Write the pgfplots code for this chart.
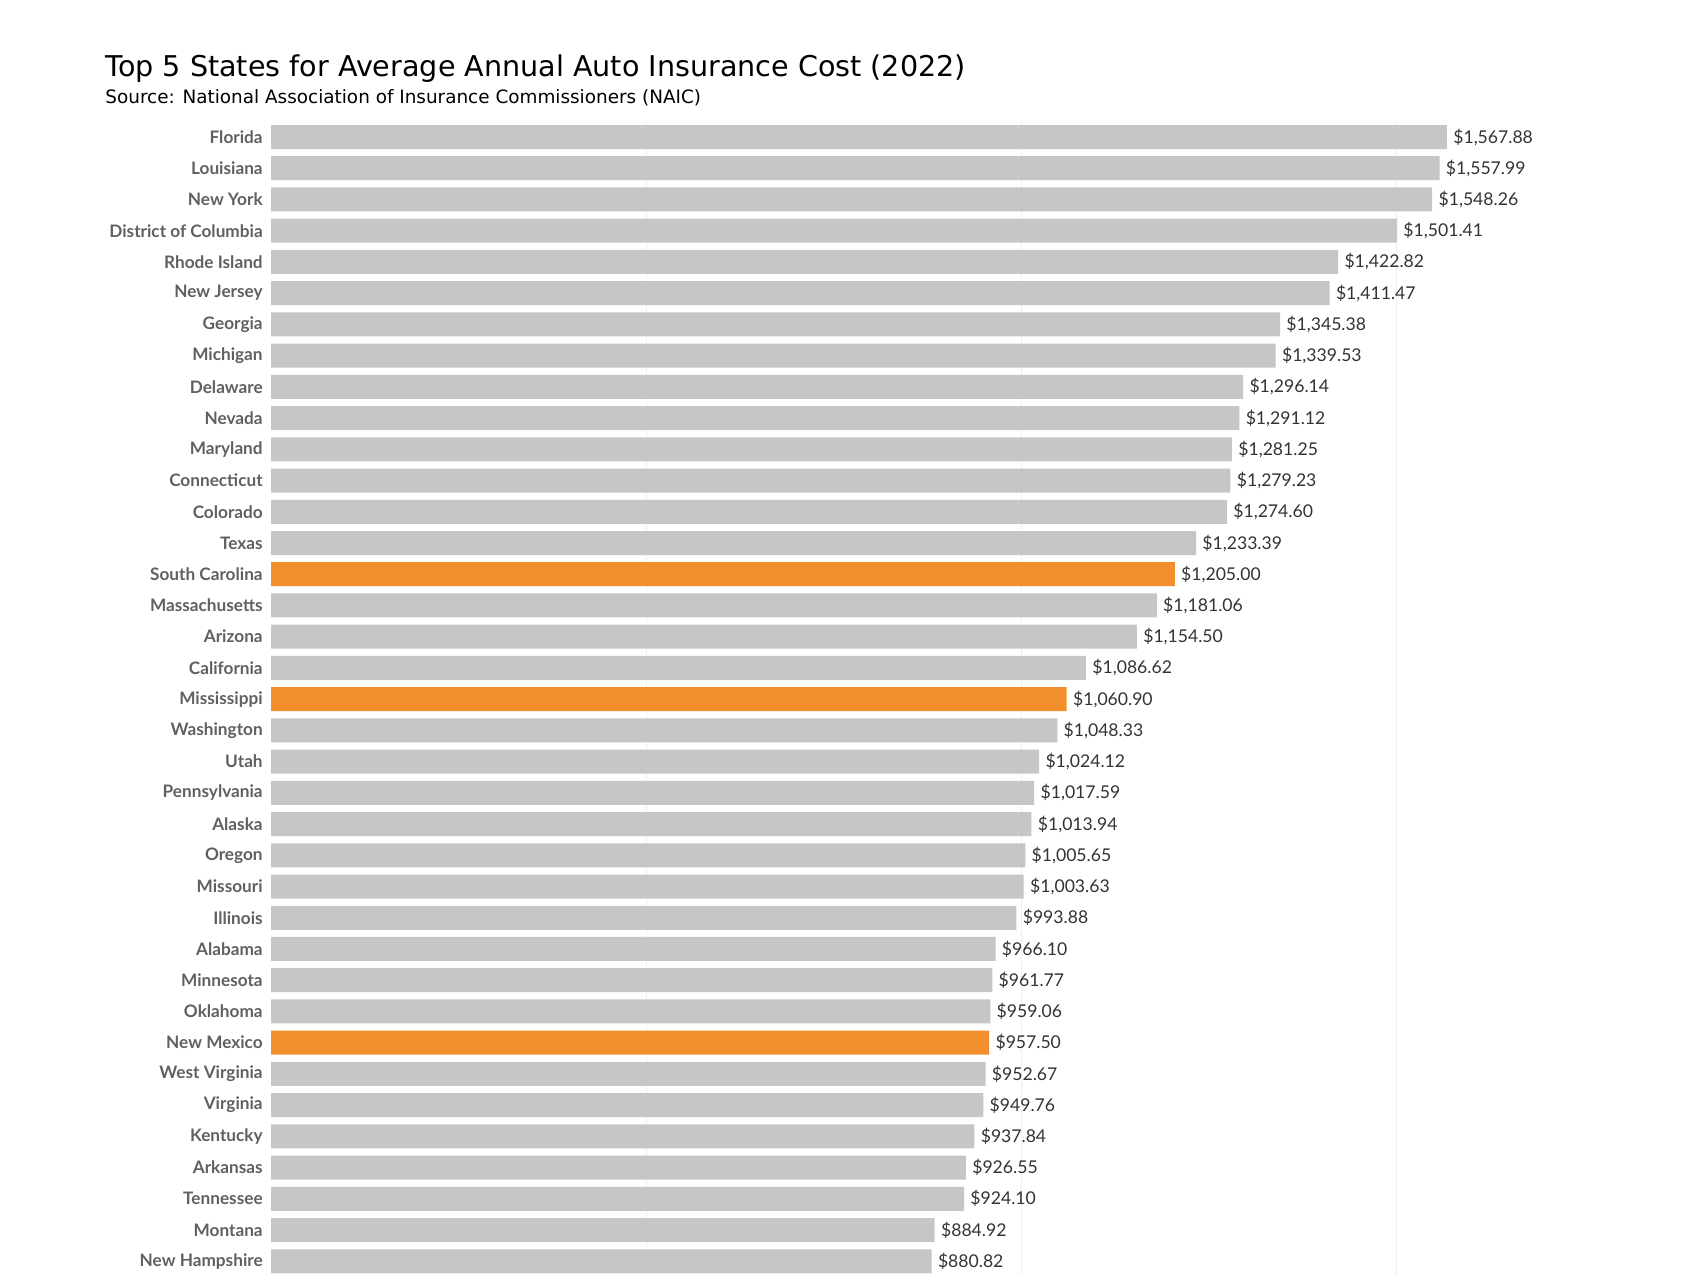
\documentclass[border=0pt]{standalone}
\usepackage{fontspec}
\setmainfont{Lato}
\newfontfamily\titlefont{DejaVu Sans}
\usepackage{pgfplots}
\usepackage{pgfplotstable}
\pgfplotsset{compat=1.18}
\definecolor{bargray}{HTML}{C6C6C6}
\definecolor{barorange}{HTML}{F28E2B}
\definecolor{labelgray}{HTML}{606060}
\definecolor{valgray}{HTML}{333333}
\definecolor{gridgray}{HTML}{EFEFEF}

% position (0 = top) and average annual cost
\pgfplotstableread{
pos cost
0 1567.88
1 1557.99
2 1548.26
3 1501.41
4 1422.82
5 1411.47
6 1345.38
7 1339.53
8 1296.14
9 1291.12
10 1281.25
11 1279.23
12 1274.60
13 1233.39
15 1181.06
16 1154.50
17 1086.62
19 1048.33
20 1024.12
21 1017.59
22 1013.94
23 1005.65
24 1003.63
25 993.88
26 966.10
27 961.77
28 959.06
30 952.67
31 949.76
32 937.84
33 926.55
34 924.10
35 884.92
36 880.82
}\otherstates

\pgfplotstableread{
pos cost
14 1205.00
18 1060.90
29 957.50
}\topstates

\begin{document}
\begin{tikzpicture}
\path[use as bounding box] (0,0) rectangle (850pt,637.5pt);
\node[anchor=base west, inner sep=0pt] at (52.5pt,599pt)
  {\titlefont\fontsize{14.3}{16}\selectfont Top 5 States for Average Annual Auto Insurance Cost (2022)};
\node[anchor=base west, inner sep=0pt] at (52.5pt,585.5pt)
  {\titlefont\fontsize{9.2}{11}\selectfont Source: National Association of Insurance Commissioners (NAIC)};
\begin{axis}[
    at={(135.5pt,576.8pt)}, anchor=north west,
    scale only axis,
    width=656.25pt, height=576.8pt,
    xbar, bar width=12pt, bar shift=0pt,
    xmin=0, xmax=1750,
    ymin=-0.5, ymax=36.44,
    y dir=reverse,
    axis line style={draw=none},
    tick style={draw=none},
    xtick={500,1000,1500}, xticklabels={},
    xmajorgrids, grid style={gridgray, line width=0.5pt},
    ytick={0,...,36},
    yticklabels={Florida, Louisiana, New York, District of Columbia, Rhode Island,
      New Jersey, Georgia, Michigan, Delaware, Nevada, Maryland, Connecticut,
      Colorado, Texas, South Carolina, Massachusetts, Arizona, California,
      Mississippi, Washington, Utah, Pennsylvania, Alaska, Oregon, Missouri,
      Illinois, Alabama, Minnesota, Oklahoma, New Mexico, West Virginia,
      Virginia, Kentucky, Arkansas, Tennessee, Montana, New Hampshire},
    yticklabel style={font=\fontsize{8.6}{10}\selectfont\bfseries, text=labelgray,
      anchor=east, inner xsep=0pt, xshift=0.3pt},
    /pgf/number format/assume math mode=true,
    nodes near coords={\$\pgfmathprintnumber[fixed, fixed zerofill, precision=2, 1000 sep={,}]{\pgfplotspointmeta}},
    point meta=x,
    nodes near coords style={font=\fontsize{8.8}{10}\selectfont, text=valgray,
      anchor=west, inner xsep=0pt, xshift=3pt},
    clip=false,
]
\addplot[fill=bargray, draw=none] table[x=cost, y=pos] {\otherstates};
\addplot[fill=barorange, draw=none] table[x=cost, y=pos] {\topstates};
\end{axis}
\end{tikzpicture}
\end{document}
